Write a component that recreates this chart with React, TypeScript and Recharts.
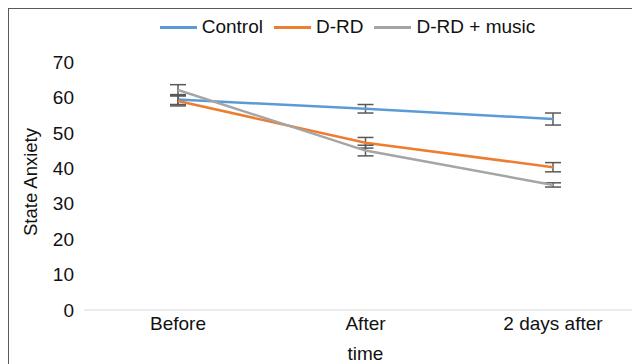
import React from 'react';
import { LineChart, Line, XAxis, YAxis, ErrorBar, Legend, Label } from 'recharts';

const times = ['Before', 'After', '2 days after'];
const control = [59.4, 56.8, 53.9];
const controlErr = [1.4, 1.2, 1.7];
const drd = [59.0, 47.2, 40.3];
const drdErr = [1.4, 1.5, 1.3];
const music = [62.1, 45.0, 35.3];
const musicErr = [1.5, 1.5, 0.6];
const yTicks = [0, 10, 20, 30, 40, 50, 60, 70];

const series = [
  { key: 'control', err: 'controlErr', name: 'Control', color: '#5B9BD5' },
  { key: 'drd', err: 'drdErr', name: 'D-RD', color: '#ED7D31' },
  { key: 'music', err: 'musicErr', name: 'D-RD + music', color: '#A5A5A5' },
];

const data = times.map((t, i) => ({
  time: t,
  control: control[i],
  controlErr: controlErr[i],
  drd: drd[i],
  drdErr: drdErr[i],
  music: music[i],
  musicErr: musicErr[i],
}));

const FONT = '"Liberation Sans", Arial, sans-serif';

const LegendContent = () => (
  <div style={{ display: 'flex', justifyContent: 'center', alignItems: 'center', fontFamily: FONT, fontSize: 19, color: '#111' }}>
    {series.map((s) => (
      <div key={s.key} style={{ display: 'flex', alignItems: 'center', marginRight: 11 }}>
        <div style={{ width: 37, height: 3, background: s.color, marginRight: 5 }} />
        <span>{s.name}</span>
      </div>
    ))}
  </div>
);

export default function App() {
  return (
    <div
      style={{
        width: 631,
        height: 355,
        borderLeft: '1px solid #595959',
        borderTop: '1px solid #595959',
        fontFamily: FONT,
        overflow: 'hidden',
      }}
    >
      <LineChart width={645} height={355} data={data} margin={{ top: 53, right: 7, bottom: 0, left: 0 }}>
        <XAxis
          dataKey="time"
          height={54}
          padding={{ left: 94, right: 94 }}
          axisLine={{ stroke: '#D9D9D9' }}
          tickLine={false}
          tickSize={6}
          tickMargin={1}
          tick={{ fill: '#111', fontSize: 19, fontFamily: FONT }}
        >
          <Label
            content={({ viewBox }: any) => (
              <text x={viewBox.x + viewBox.width / 2} y={viewBox.y + 43} textAnchor="middle" dominantBaseline="central" fill="#111" fontSize={19} fontFamily={FONT}>
                time
              </text>
            )}
          />
        </XAxis>
        <YAxis
          width={75}
          domain={[0, 70]}
          ticks={yTicks}
          axisLine={false}
          tickLine={false}
          tickSize={6}
          tickMargin={4}
          tick={{ fill: '#111', fontSize: 19, fontFamily: FONT }}
        >
          <Label
            content={({ viewBox }: any) => {
              const cx = 21;
              const cy = viewBox.y + viewBox.height / 2 - 4;
              return (
                <text x={cx} y={cy} transform={`rotate(-90, ${cx}, ${cy})`} textAnchor="middle" dominantBaseline="central" fill="#111" fontSize={18.5} fontFamily={FONT}>
                  State Anxiety
                </text>
              );
            }}
          />
        </YAxis>
        <Legend verticalAlign="middle" align="center" content={<LegendContent />} wrapperStyle={{ top: 7, left: 0, width: 688 }} />
        {series.map((s) => (
          <Line
            key={s.key}
            dataKey={s.key}
            name={s.name}
            stroke={s.color}
            strokeWidth={2.5}
            dot={false}
            activeDot={false}
            isAnimationActive={false}
          >
            <ErrorBar dataKey={s.err} width={8} stroke="#595959" strokeWidth={1.5} />
          </Line>
        ))}
      </LineChart>
    </div>
  );
}
